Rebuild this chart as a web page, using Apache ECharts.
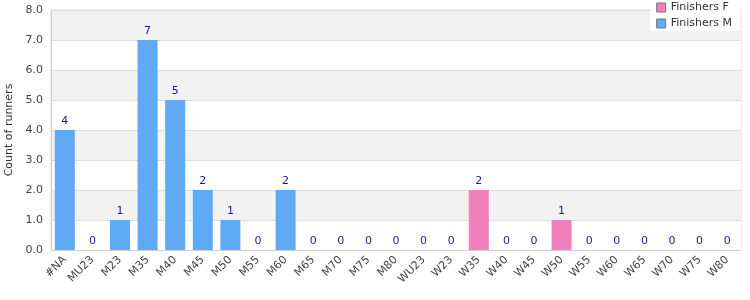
<!DOCTYPE html>
<html>
<head>
<meta charset="utf-8">
<script src="https://cdn.jsdelivr.net/npm/echarts@6/dist/echarts.min.js"></script>
<style>
  html, body { margin: 0; padding: 0; background: #fff; }
  #chart { width: 750px; height: 300px; }
</style>
</head>
<body>
<div id="chart"></div>
<script>
var categories = ['#NA', 'MU23', 'M23', 'M35', 'M40', 'M45', 'M50', 'M55', 'M60', 'M65', 'M70', 'M75', 'M80',
    'WU23', 'W23', 'W35', 'W40', 'W45', 'W50', 'W55', 'W60', 'W65', 'W70', 'W75', 'W80'];
// '-' = category belongs to the other group
var finishersM = [4, 0, 1, 7, 5, 2, 1, 0, 2, 0, 0, 0, 0,
    '-', '-', '-', '-', '-', '-', '-', '-', '-', '-', '-', '-'];
var finishersF = ['-', '-', '-', '-', '-', '-', '-', '-', '-', '-', '-', '-', '-',
    0, 0, 2, 0, 0, 1, 0, 0, 0, 0, 0, 0];
var yTicks = [0, 8, 1];

var font = 'DejaVu Sans';
var myChart = echarts.init(document.getElementById('chart'));

var barLabel = {
    show: true,
    position: 'top',
    color: '#1c1c8a',
    fontFamily: font,
    fontSize: 11,
    distance: 3
};

var option = {
    animation: false,
    textStyle: { fontFamily: font },
    grid: {
        left: 51, right: 9, top: 10, bottom: 50,
        outerBoundsMode: 'none',
        containLabel: false,
        show: true,
        borderColor: '#dcdcdc',
        borderWidth: 1
    },
    legend: {
        orient: 'vertical',
        right: 10,
        top: 2,
        backgroundColor: '#fff',
        padding: [0, 8, 2, 6],
        itemGap: 5,
        itemWidth: 9,
        itemHeight: 9,
        icon: 'rect',
        itemStyle: { borderColor: '#777', borderWidth: 1 },
        textStyle: { fontFamily: font, fontSize: 11, color: '#333' },
        data: ['Finishers F', 'Finishers M']
    },
    xAxis: {
        type: 'category',
        data: categories,
        axisLine: { lineStyle: { color: '#cfcfcf' } },
        axisTick: { show: false },
        axisLabel: {
            rotate: 45,
            interval: 0,
            color: '#444',
            fontFamily: font,
            fontSize: 11,
            margin: 8
        }
    },
    yAxis: {
        type: 'value',
        min: yTicks[0],
        max: yTicks[1],
        interval: yTicks[2],
        name: 'Count of runners',
        nameLocation: 'middle',
        nameGap: 35,
        nameTextStyle: { color: '#333', fontFamily: font, fontSize: 11 },
        axisLine: { show: true, lineStyle: { color: '#cfcfcf' } },
        axisLabel: {
            color: '#444',
            fontFamily: font,
            fontSize: 11,
            formatter: function (v) { return v.toFixed(1); }
        },
        splitLine: { lineStyle: { color: '#dcdcdc' } },
        splitArea: { show: true, areaStyle: { color: ['#ffffff', '#f2f2f2'] } }
    },
    series: [
        {
            name: 'Finishers F',
            type: 'bar',
            barWidth: 20,
            barGap: '-100%',
            itemStyle: { color: '#f181bb' },
            label: barLabel,
            data: finishersF
        },
        {
            name: 'Finishers M',
            type: 'bar',
            barWidth: 20,
            barGap: '-100%',
            itemStyle: { color: '#60a9f4' },
            label: barLabel,
            data: finishersM
        }
    ]
};
myChart.setOption(option);
</script>
</body>
</html>
